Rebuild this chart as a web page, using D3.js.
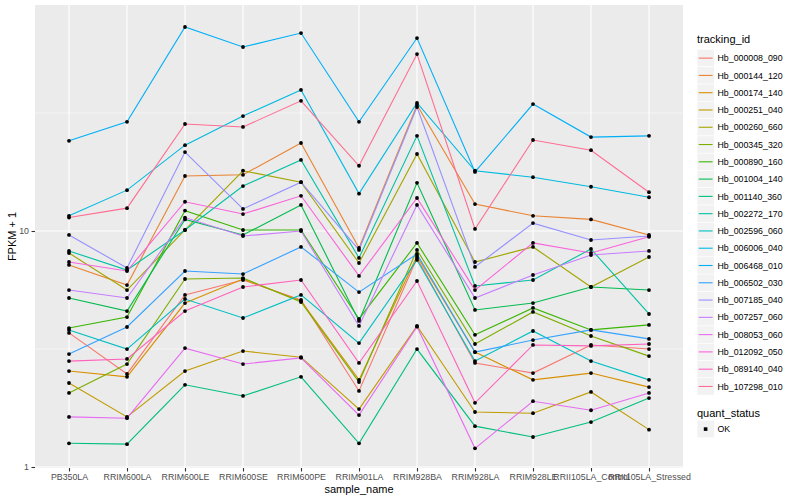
<!DOCTYPE html>
<html>
<head>
<meta charset="utf-8">
<script src="https://cdn.jsdelivr.net/npm/d3@7"></script>
<style>
  body { margin: 0; background: #fff; }
  text { font-family: "Liberation Sans", Arial, sans-serif; }
</style>
</head>
<body>
<svg width="800" height="500"></svg>
<script>
// Sample names on the x axis
const samples = ['PB350LA', 'RRIM600LA', 'RRIM600LE', 'RRIM600SE', 'RRIM600PE', 'RRIM901LA',
  'RRIM928BA', 'RRIM928LA', 'RRIM928LE', 'RRII105LA_Control', 'RRII105LA_Stressed']

// Gene ids, in legend order
const trackingIds = ['Hb_000008_090', 'Hb_000144_120', 'Hb_000174_140', 'Hb_000251_040', 'Hb_000260_660',
  'Hb_000345_320', 'Hb_000890_160', 'Hb_001004_140', 'Hb_001140_360', 'Hb_002272_170', 'Hb_002596_060',
  'Hb_006006_040', 'Hb_006468_010', 'Hb_006502_030', 'Hb_007185_040', 'Hb_007257_060', 'Hb_008053_060',
  'Hb_012092_050', 'Hb_089140_040', 'Hb_107298_010']

// FPKM + 1 per gene, one value per sample
const hb000008_090 = [3.70, 2.48, 5.36, 6.20, 5.10, 2.10, 7.69, 2.76, 2.50, 3.29, 3.16]
const hb000144_120 = [7.18, 5.90, 17.1, 17.3, 23.6, 8.47, 34.2, 13.0, 11.6, 11.2, 9.62]
const hb000174_140 = [2.55, 2.41, 4.95, 6.26, 5.05, 2.34, 7.84, 3.07, 2.34, 2.50, 2.18]
const hb000251_040 = [2.27, 1.63, 2.55, 3.10, 2.92, 1.76, 3.96, 1.71, 1.69, 2.08, 1.44]
const hb000260_660 = [8.07, 5.62, 10.1, 18.0, 16.1, 7.32, 21.2, 7.39, 8.56, 5.79, 7.76]
const hb000345_320 = [2.06, 2.73, 6.26, 6.32, 5.00, 2.29, 8.31, 3.32, 4.54, 3.59, 2.95]
const hb000890_160 = [3.88, 4.32, 12.2, 10.1, 10.1, 4.24, 8.90, 3.63, 4.72, 3.81, 4.00]
const hb001004_140 = [5.20, 4.58, 11.2, 9.62, 12.9, 4.16, 16.0, 4.63, 4.95, 5.79, 5.62]
const hb001140_360 = [1.26, 1.25, 2.23, 2.00, 2.41, 1.26, 3.16, 1.49, 1.34, 1.55, 1.96]
const hb002272_170 = [8.23, 6.83, 10.1, 15.5, 20.0, 7.69, 25.3, 5.85, 6.20, 8.39, 4.45]
const hb002596_060 = [3.81, 3.16, 5.15, 4.28, 5.36, 3.35, 7.54, 2.81, 3.77, 2.81, 2.34]
const hb006006_040 = [11.6, 14.9, 23.1, 30.7, 39.6, 14.4, 34.9, 18.0, 16.9, 15.4, 13.9]
const hb006468_010 = [24.1, 29.0, 73.2, 60.2, 69.0, 29.0, 65.7, 17.8, 34.5, 25.0, 25.3]
const hb006502_030 = [3.01, 3.92, 6.77, 6.57, 8.56, 5.51, 7.99, 3.07, 3.45, 3.81, 3.49]
const hb007185_040 = [9.62, 6.97, 21.6, 12.4, 16.1, 8.31, 33.5, 7.04, 10.8, 9.16, 9.52]
const hb007257_060 = [5.62, 5.20, 11.4, 9.52, 10.0, 3.96, 12.9, 5.20, 6.51, 7.91, 8.23]
const hb008053_060 = [1.63, 1.61, 3.19, 2.73, 2.90, 1.66, 3.93, 1.20, 1.90, 1.74, 2.06]
const hb012092_050 = [7.39, 6.77, 13.3, 11.8, 14.1, 6.45, 13.8, 5.62, 8.90, 8.07, 9.45]
const hb089140_040 = [2.81, 2.87, 4.58, 5.79, 6.20, 2.76, 6.14, 1.87, 3.29, 3.26, 3.32]
const hb107298_010 = [11.4, 12.5, 28.4, 27.6, 35.6, 18.9, 56.2, 10.2, 24.3, 22.0, 14.6]

// y axis breaks
const yTicks = [1, 10]
const yMinor = [Math.sqrt(10), Math.sqrt(1000)]
const quantStatus = ['OK']

// ggplot default hue palette for 20 levels
const palette = ['#F8766D', '#EA8331', '#D89000', '#C09B00', '#A3A500', '#7CAE00', '#39B600', '#00BB4E',
  '#00BF7D', '#00C1A3', '#00BFC4', '#00BAE0', '#00B0F6', '#35A2FF', '#9590FF', '#C77CFF', '#E76BF3',
  '#FA62DB', '#FF62BC', '#FF6C91']

const allValues = [hb000008_090, hb000144_120, hb000174_140, hb000251_040, hb000260_660, hb000345_320,
  hb000890_160, hb001004_140, hb001140_360, hb002272_170, hb002596_060, hb006006_040, hb006468_010,
  hb006502_030, hb007185_040, hb007257_060, hb008053_060, hb012092_050, hb089140_040, hb107298_010]

const series = trackingIds.map((id, i) => ({
  id: id,
  values: allValues[i].map((v, j) => ({ sample: samples[j], value: v }))
}))

const svg = d3.select('svg')
const panel = { left: 35, right: 683, top: 5, bottom: 468 }

const x = d3.scalePoint().domain(samples).range([69, 649])
const y = d3.scaleLog().domain([1, 10]).range([467, 231])
const color = d3.scaleOrdinal().domain(trackingIds).range(palette)

// panel background
svg.append('rect')
  .attr('x', panel.left).attr('y', panel.top)
  .attr('width', panel.right - panel.left).attr('height', panel.bottom - panel.top)
  .attr('fill', '#EBEBEB')

// grid lines
const grid = svg.append('g')
grid.selectAll('.minor').data(yMinor).enter().append('line')
  .attr('x1', panel.left).attr('x2', panel.right)
  .attr('y1', d => y(d)).attr('y2', d => y(d))
  .attr('stroke', '#fff').attr('stroke-width', 0.55)
grid.selectAll('.major').data(yTicks).enter().append('line')
  .attr('x1', panel.left).attr('x2', panel.right)
  .attr('y1', d => y(d)).attr('y2', d => y(d))
  .attr('stroke', '#fff').attr('stroke-width', 1.1)
grid.selectAll('.vert').data(samples).enter().append('line')
  .attr('x1', d => x(d)).attr('x2', d => x(d))
  .attr('y1', panel.top).attr('y2', panel.bottom)
  .attr('stroke', '#fff').attr('stroke-width', 1.1)

// lines, one per gene
const line = d3.line().x(d => x(d.sample)).y(d => y(d.value))
svg.append('g').selectAll('path')
  .data(series).enter().append('path')
    .attr('d', d => line(d.values))
    .attr('fill', 'none')
    .attr('stroke', d => color(d.id))
    .attr('stroke-width', 1.1)

// points on top
svg.append('g').selectAll('g')
  .data(series).enter().append('g')
  .selectAll('circle')
  .data(d => d.values).enter().append('circle')
    .attr('cx', d => x(d.sample))
    .attr('cy', d => y(d.value))
    .attr('r', 1.9)
    .attr('fill', '#000')

// x axis
const xAxis = svg.append('g')
  .attr('transform', `translate(0,${panel.bottom})`)
  .call(d3.axisBottom(x).tickSize(3.5).tickPadding(2.5))
xAxis.select('.domain').remove()
xAxis.selectAll('line').attr('stroke', '#333333').attr('stroke-width', 1.1)
xAxis.selectAll('text').attr('fill', '#4D4D4D').style('font-size', '8.8px')
  .style('font-family', '"Liberation Sans", Arial, sans-serif')

// y axis
const yAxis = svg.append('g')
  .attr('transform', `translate(${panel.left},0)`)
  .call(d3.axisLeft(y).tickValues(yTicks).tickFormat(d3.format('d')).tickSize(3.5).tickPadding(2.5))
yAxis.select('.domain').remove()
yAxis.selectAll('line').attr('stroke', '#333333').attr('stroke-width', 1.1)
yAxis.selectAll('text').attr('fill', '#4D4D4D').style('font-size', '8.8px')
  .style('font-family', '"Liberation Sans", Arial, sans-serif')

// axis titles
svg.append('text')
  .attr('x', (panel.left + panel.right) / 2).attr('y', 493)
  .attr('text-anchor', 'middle').style('font-size', '11px')
  .text('sample_name')
svg.append('text')
  .attr('transform', `translate(16,${(panel.top + panel.bottom) / 2}) rotate(-90)`)
  .attr('text-anchor', 'middle').style('font-size', '11px')
  .text('FPKM + 1')

// legend for tracking_id
const legend = svg.append('g').attr('transform', 'translate(697,0)')
legend.append('text').attr('x', 0).attr('y', 43).style('font-size', '11px').text('tracking_id')
const keyStep = 17.28
const keys = legend.selectAll('.key').data(trackingIds).enter().append('g')
  .attr('transform', (d, i) => `translate(0,${49.5 + i * keyStep})`)
keys.append('rect')
  .attr('x', 0).attr('y', 0).attr('width', 17.28).attr('height', 17.28)
  .attr('fill', '#F2F2F2').attr('stroke', '#fff').attr('stroke-width', 0.6)
keys.append('line')
  .attr('x1', 1.7).attr('x2', 15.6).attr('y1', 8.64).attr('y2', 8.64)
  .attr('stroke', d => color(d)).attr('stroke-width', 1.1)
keys.append('text')
  .attr('x', 20.5).attr('y', 11.8)
  .style('font-size', '8.8px')
  .text(d => d)

// legend for quant_status
const legend2 = svg.append('g').attr('transform', 'translate(697,0)')
legend2.append('text').attr('x', 0).attr('y', 417).style('font-size', '11px').text('quant_status')
const keys2 = legend2.selectAll('.key2').data(quantStatus).enter().append('g')
  .attr('transform', (d, i) => `translate(0,${420.5 + i * keyStep})`)
keys2.append('rect')
  .attr('x', 0).attr('y', 0).attr('width', 17.28).attr('height', 17.28)
  .attr('fill', '#F2F2F2').attr('stroke', '#fff').attr('stroke-width', 0.6)
keys2.append('rect')
  .attr('x', 6.8).attr('y', 6.8).attr('width', 3.6).attr('height', 3.6)
  .attr('fill', '#000')
keys2.append('text')
  .attr('x', 20.5).attr('y', 11.8)
  .style('font-size', '8.8px')
  .text(d => d)
</script>
</body>
</html>
